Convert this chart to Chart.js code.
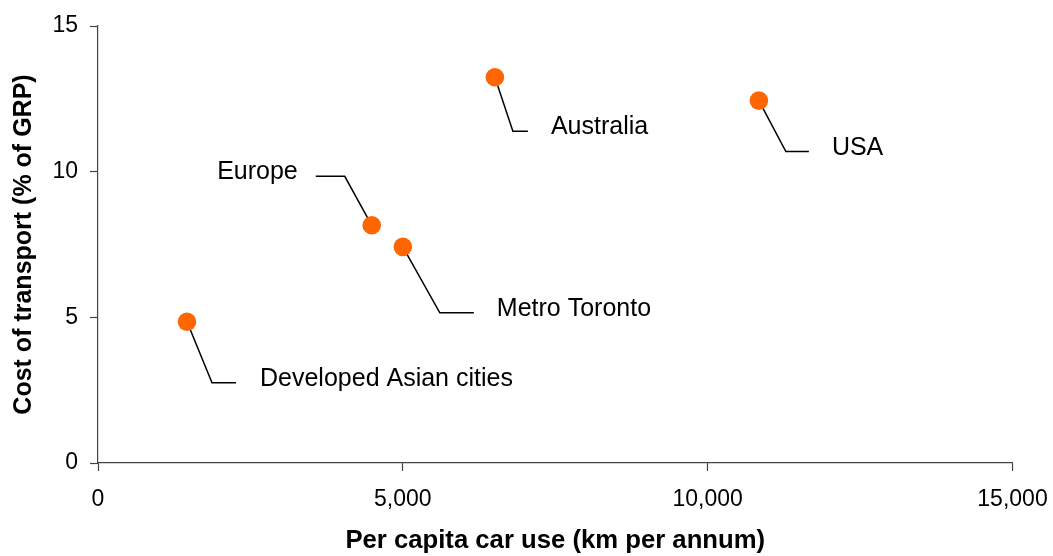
<!DOCTYPE html>
<html>
<head>
<meta charset="utf-8">
<script src="https://cdn.jsdelivr.net/npm/chart.js@4/dist/chart.umd.min.js"></script>
<style>
  html, body { margin: 0; padding: 0; background: #ffffff; }
  #wrap { width: 1053px; height: 556px; position: relative; }
</style>
</head>
<body>
<div id="wrap"><canvas id="chart"></canvas></div>
<script>
// Cities / regions and their values
const categories = ['Developed Asian cities', 'Europe', 'Metro Toronto', 'Australia', 'USA'];
const carUse = [1460, 4490, 5000, 6510, 10840];          // km per person per year
const transportCost = [4.85, 8.16, 7.42, 13.24, 12.44];  // % of GRP
const xTickValues = [0, 5000, 10000, 15000];
const yTickValues = [0, 5, 10, 15];

// Leader-line callouts, in pixel offsets from each marker
const callouts = [
  { elbow: [25, 61],  end: [49, 61],   text: [73, 0],  align: 'left'  },
  { elbow: [-27, -49], end: [-56, -49], text: [-74, 0], align: 'right' },
  { elbow: [37, 66],  end: [71, 66],   text: [94, 0],  align: 'left'  },
  { elbow: [18, 54],  end: [33, 54],   text: [56, 0],  align: 'left'  },
  { elbow: [27, 51],  end: [50, 51],   text: [73, 0],  align: 'left'  }
];

const FONT = "'Liberation Sans', Arial, sans-serif";
const AXIS_COLOR = '#444444';

const calloutPlugin = {
  id: 'callouts',
  beforeDatasetsDraw(chart) {
    const ctx = chart.ctx;
    const pts = chart.getDatasetMeta(0).data;
    ctx.save();
    ctx.strokeStyle = '#000000';
    ctx.lineWidth = 1.5;
    ctx.fillStyle = '#000000';
    ctx.font = '25px ' + FONT;
    ctx.textBaseline = 'alphabetic';
    pts.forEach((p, i) => {
      const c = callouts[i];
      const ex = p.x + c.elbow[0], ey = p.y + c.elbow[1];
      const hx = p.x + c.end[0];
      ctx.beginPath();
      ctx.moveTo(p.x, p.y);
      ctx.lineTo(ex, ey);
      ctx.lineTo(hx, ey);
      ctx.stroke();
      ctx.textAlign = c.align;
      ctx.fillText(categories[i], p.x + c.text[0], ey + 3);
    });
    ctx.restore();
  }
};

const fmt = v => v.toLocaleString('en-US');

new Chart(document.getElementById('chart'), {
  type: 'scatter',
  data: {
    datasets: [{
      data: carUse.map((x, i) => ({ x: x, y: transportCost[i] })),
      backgroundColor: '#FF6600',
      borderWidth: 0,
      pointRadius: 9.3,
      pointHoverRadius: 9.3
    }]
  },
  options: {
    responsive: true,
    maintainAspectRatio: false,
    animation: false,
    devicePixelRatio: 1,
    layout: { padding: { top: 26, right: 40.5, left: 0, bottom: 0 } },
    plugins: { legend: { display: false }, tooltip: { enabled: false } },
    scales: {
      x: {
        type: 'linear',
        min: 0, max: 15000,
        afterBuildTicks: s => { s.ticks = xTickValues.map(v => ({ value: v })); },
        afterFit: s => { s.height = 93; s.paddingLeft = 0; s.paddingRight = 0; },
        border: { display: true, color: AXIS_COLOR, width: 1.2 },
        grid: { drawOnChartArea: false, drawTicks: true, tickLength: 8, color: AXIS_COLOR, tickWidth: 1.2 },
        ticks: {
          color: '#000000', padding: 15, maxRotation: 0,
          font: { family: FONT, size: 23 },
          callback: v => fmt(v)
        },
        title: {
          display: true, text: 'Per capita car use (km per annum)', color: '#000000',
          font: { family: FONT, size: 25.7, weight: 'bold' },
          padding: { top: 0, bottom: 0 }
        }
      },
      y: {
        type: 'linear',
        min: 0, max: 15,
        afterBuildTicks: s => { s.ticks = yTickValues.map(v => ({ value: v })); },
        afterFit: s => { s.width = 98; s.paddingTop = 0; s.paddingBottom = 0; },
        border: { display: true, color: AXIS_COLOR, width: 1.2 },
        grid: { drawOnChartArea: false, drawTicks: true, tickLength: 8, color: AXIS_COLOR, tickWidth: 1.2 },
        ticks: {
          color: '#000000', padding: 12,
          font: { family: FONT, size: 23 },
          callback: v => fmt(v)
        },
        title: {
          display: true, text: 'Cost of transport (% of GRP)', color: '#000000',
          font: { family: FONT, size: 25, weight: 'bold' },
          padding: { top: 9, bottom: 0 }
        }
      }
    }
  },
  plugins: [calloutPlugin]
});
</script>
</body>
</html>
